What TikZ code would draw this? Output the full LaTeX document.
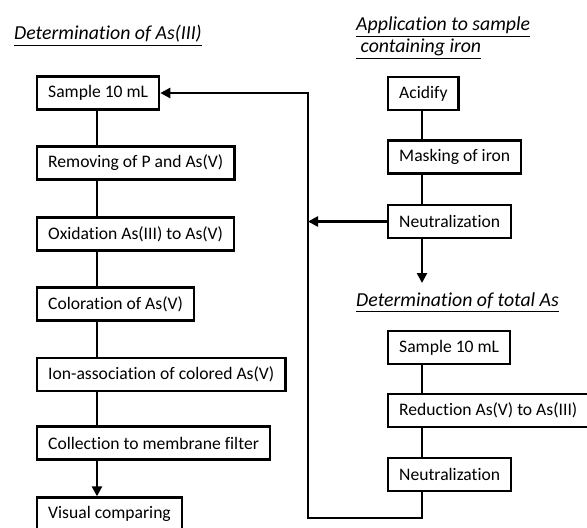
\documentclass[tikz,border=0pt]{standalone}
\usepackage{fontspec}
\setmainfont{Carlito}[Ligatures=NoCommon]
\usetikzlibrary{arrows.meta}
\begin{document}
\begin{tikzpicture}[x=0.5pt,y=-0.5pt,line width=1.2pt,
  every node/.style={font=\fontsize{8.8}{11}\selectfont},
  stepbox/.style={draw,line width=1.2pt,anchor=west,inner xsep=5.5pt,minimum height=16.5pt},
  head/.style={font=\fontsize{9.9}{11}\selectfont\itshape,anchor=west,inner sep=0pt},
  tip/.style={-{Triangle[length=5pt,width=5pt]}}]
\useasboundingbox (0,0) rectangle (587,527);
% left column
\node[head] (tA) at (13,36) {\underline{Determination of As(III)}};
\node[stepbox] (a1) at (36,93) {Sample 10 mL};
\node[stepbox] (a2) at (36,163) {Removing of P and As(V)};
\node[stepbox] (a3) at (36,234) {Oxidation As(III) to As(V)};
\node[stepbox] (a4) at (36,304) {Coloration of As(V)};
\node[stepbox] (a5) at (36,374.5) {Ion-association of colored As(V)};
\node[stepbox] (a6) at (36,443) {Collection to membrane filter};
\node[stepbox] (a7) at (36,514) {Visual comparing};
\foreach \i/\j in {a1/a2,a2/a3,a3/a4,a4/a5,a5/a6}
  \draw (\i.south -| 97,0) -- (\j.north -| 97,0);
\draw[tip] (a6.south -| 97,0) -- (a7.north -| 97,0);
% right column, iron
\node[head,align=left] (tB) at (355,38) {\underline{Application to sample}\\[0pt]\underline{\ containing iron}};
\node[stepbox] (b1) at (387,93.5) {Acidify};
\node[stepbox] (b2) at (387,157) {Masking of iron};
\node[stepbox] (b3) at (387,221.5) {Neutralization};
\draw (b1.south -| 422,0) -- (b2.north -| 422,0);
\draw (b2.south -| 422,0) -- (b3.north -| 422,0);
\draw[tip] (b3.south -| 422,0) -- (422,283);
\draw[tip] (b3.west) -- (308,221.5);
% right column, total As
\node[head] (tC) at (355,303) {\underline{Determination of total As}};
\node[stepbox] (c1) at (387,347.5) {Sample 10 mL};
\node[stepbox] (c2) at (387,410.5) {Reduction As(V) to As(III)};
\node[stepbox] (c3) at (387,474.5) {Neutralization};
\draw (c1.south -| 422,0) -- (c2.north -| 422,0);
\draw (c2.south -| 422,0) -- (c3.north -| 422,0);
\draw[tip] (c3.south -| 422,0) -- (422,518) -- (308,518) -- (308,93) -- (a1.east);
\end{tikzpicture}
\end{document}
